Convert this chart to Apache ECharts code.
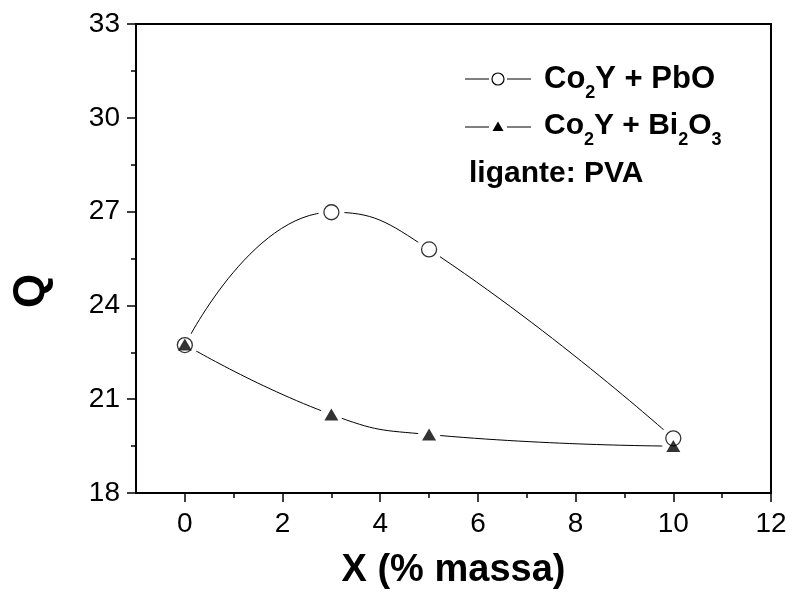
<!DOCTYPE html>
<html>
<head>
<meta charset="utf-8">
<script src="https://cdn.jsdelivr.net/npm/echarts@6/dist/echarts.min.js"></script>
<style>
html,body{margin:0;padding:0;background:#fff;}
#chart{width:792px;height:595px;}
</style>
</head>
<body>
<div id="chart"></div>
<script>
// ---- data ----
const xValues = [0, 3, 5, 10];
const qPbO = [22.73, 26.98, 25.79, 19.75];
const qBi2O3 = [22.75, 20.51, 19.87, 19.50];
const xTickLabels = [0, 2, 4, 6, 8, 10, 12];
const xMinorTicks = [1, 3, 5, 7, 9, 11];
const seriesNames = ['Co2Y + PbO', 'Co2Y + Bi2O3'];

const FONT = 'Arial, "Liberation Sans", sans-serif';
const pts = (ys) => xValues.map((x, i) => [x, ys[i]]);

const chart = echarts.init(document.getElementById('chart'), null, {renderer: 'canvas'});

const lineSeries = (name, ys, maskSize) => ({
  name: name, type: 'line', data: pts(ys), smooth: true,
  lineStyle: {color: '#000', width: 1},
  symbol: 'circle', symbolSize: maskSize,
  itemStyle: {color: '#fff', borderWidth: 0},
  z: 2, silent: true, emphasis: {disabled: true}
});

const option = {
  animation: false,
  backgroundColor: '#fff',
  grid: {left: 136, right: 21, top: 24, bottom: 101, show: true,
         borderColor: '#000', borderWidth: 2, backgroundColor: 'transparent'},
  xAxis: [{
    type: 'value', min: -1, max: 12, position: 'bottom',
    name: 'X (% massa)', nameLocation: 'middle', nameGap: 59,
    nameTextStyle: {fontFamily: FONT, fontWeight: 'bold', fontSize: 38, color: '#000'},
    axisLine: {show: true, onZero: false, lineStyle: {color: '#000', width: 2}},
    axisTick: {show: true, inside: false, length: 9, customValues: xTickLabels,
               lineStyle: {color: '#000', width: 1.5}},
    axisLabel: {show: true, customValues: xTickLabels, margin: 17,
                fontFamily: FONT, fontSize: 28, color: '#000'},
    splitLine: {show: false}
  }, {
    type: 'value', min: -1, max: 12, position: 'bottom',
    axisLine: {show: false, onZero: false},
    axisTick: {show: true, inside: false, length: 5, customValues: xMinorTicks,
               lineStyle: {color: '#000', width: 1.5}},
    axisLabel: {show: false},
    splitLine: {show: false}
  }],
  yAxis: {
    type: 'value', min: 18, max: 33, interval: 3,
    axisLine: {show: true, onZero: false, lineStyle: {color: '#000', width: 2}},
    axisTick: {show: true, inside: false, length: 9, lineStyle: {color: '#000', width: 1.5}},
    minorTick: {show: true, splitNumber: 2, length: 5, lineStyle: {color: '#000', width: 1.5}},
    axisLabel: {margin: 16, fontFamily: FONT, fontSize: 28, color: '#000'},
    splitLine: {show: false}, minorSplitLine: {show: false}
  },
  series: [
    lineSeries(seriesNames[0], qPbO, 26),
    lineSeries(seriesNames[1], qBi2O3, 22),
    {
      name: seriesNames[0] + ' markers', type: 'scatter', data: pts(qPbO),
      symbol: 'circle', symbolSize: 15,
      itemStyle: {color: '#fff', borderColor: '#000', borderWidth: 1.3},
      z: 4, silent: true
    },
    {
      name: seriesNames[1] + ' markers', type: 'scatter', data: pts(qBi2O3),
      symbol: 'triangle', symbolSize: [14, 12],
      itemStyle: {color: '#000'},
      z: 5, silent: true
    }
  ],
  graphic: [
    {type: 'text', x: 32, y: 291, rotation: Math.PI / 2,
     style: {text: 'Q', font: 'bold 44px ' + FONT, fill: '#000', align: 'center', verticalAlign: 'middle'}},
    // legend row 1
    {type: 'line', shape: {x1: 465, y1: 79, x2: 489, y2: 79}, style: {stroke: '#000', lineWidth: 1}},
    {type: 'circle', shape: {cx: 498, cy: 79, r: 6}, style: {fill: '#fff', stroke: '#000', lineWidth: 1.2}},
    {type: 'line', shape: {x1: 507, y1: 79, x2: 531, y2: 79}, style: {stroke: '#000', lineWidth: 1}},
    {type: 'text', x: 544, y: 79,
     style: {text: '{a|Co}{s|2}{a|Y + PbO}', align: 'left', verticalAlign: 'middle',
       rich: {a: {font: 'bold 31px ' + FONT, fill: '#000', lineHeight: 46},
              s: {font: 'bold 18px ' + FONT, fill: '#000', lineHeight: 18, verticalAlign: 'bottom'}}}},
    // legend row 2
    {type: 'line', shape: {x1: 465, y1: 127, x2: 489, y2: 127}, style: {stroke: '#000', lineWidth: 1}},
    {type: 'polygon', shape: {points: [[498, 121.5], [503.5, 131], [492.5, 131]]}, style: {fill: '#000'}},
    {type: 'line', shape: {x1: 507, y1: 127, x2: 531, y2: 127}, style: {stroke: '#000', lineWidth: 1}},
    {type: 'text', x: 544, y: 126,
     style: {text: '{a|Co}{s|2}{a|Y + Bi}{s|2}{a|O}{s|3}', align: 'left', verticalAlign: 'middle',
       rich: {a: {font: 'bold 30px ' + FONT, fill: '#000', lineHeight: 46},
              s: {font: 'bold 18px ' + FONT, fill: '#000', lineHeight: 18, verticalAlign: 'bottom'}}}},
    // legend row 3
    {type: 'text', x: 469, y: 174,
     style: {text: 'ligante: PVA', font: 'bold 30px ' + FONT, fill: '#000', align: 'left', verticalAlign: 'middle'}}
  ]
};
chart.setOption(option);
</script>
</body>
</html>
